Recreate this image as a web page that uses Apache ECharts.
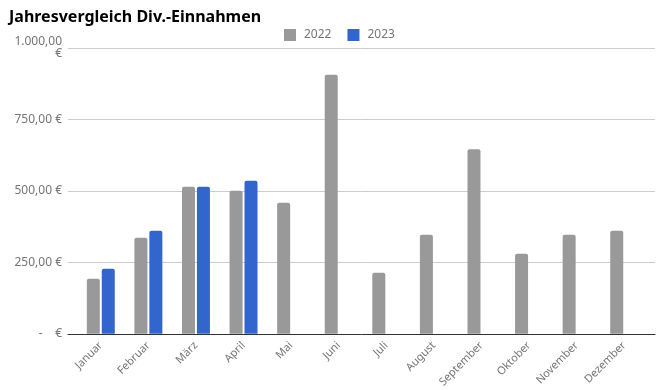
<!DOCTYPE html>
<html><head><meta charset="utf-8">
<script src="https://cdn.jsdelivr.net/npm/echarts@6/dist/echarts.min.js"></script>
<style>html,body{margin:0;padding:0;background:#fff}#c{width:667px;height:390px}</style>
</head><body><div id="c"></div>
<script>
var categories = ["Januar","Februar","März","April","Mai","Juni","Juli","August","September","Oktober","November","Dezember"];
var values2022 = [192, 336, 514, 500, 458, 906, 213, 346, 646, 280, 346, 360];
var values2023 = [227, 360, 514, 535, null, null, null, null, null, null, null, null];
var yTickLabels = {0: "-    €", 250: "250,00 €", 500: "500,00 €", 750: "750,00 €", 1000: "1.000,00\n€"};

var chart = echarts.init(document.getElementById('c'));
var font = 'Noto Sans';
chart.setOption({
  animation: false,
  textStyle: {fontFamily: font},
  title: {text: 'Jahresvergleich Div.-Einnahmen', left: 4, top: 4,
    textStyle: {fontSize: 16, fontWeight: 'bold', color: '#000', fontFamily: font}},
  legend: {top: 24, left: 279, itemWidth: 12, itemHeight: 12, itemGap: 16,
    icon: 'rect', textStyle: {color: '#757575', fontSize: 12, padding: [0, 0, 0, 3]},
    data: ['2022', '2023']},
  grid: [
    {left: 68, right: 12, top: 48, bottom: 56},
    {left: 77, right: 19, top: 48, bottom: 56}
  ],
  xAxis: [
    {type: 'value', gridIndex: 0, min: 0, max: 1, show: true,
      axisLine: {show: true, onZero: false, lineStyle: {color: '#333', width: 1}},
      axisTick: {show: false}, axisLabel: {show: false}, splitLine: {show: false}},
    {type: 'category', gridIndex: 1, data: categories,
      axisLine: {show: false}, axisTick: {show: false},
      axisLabel: {rotate: 45, color: '#757575', fontSize: 11, margin: 10, interval: 0}}
  ],
  yAxis: [
    {type: 'value', gridIndex: 0, min: 0, max: 1000, interval: 250,
      axisLine: {show: false}, axisTick: {show: false},
      splitLine: {lineStyle: {color: '#cccccc'}},
      axisLabel: {color: '#757575', fontSize: 12, margin: 6, lineHeight: 12,
        formatter: function (v) { return yTickLabels[v]; }}},
    {type: 'value', gridIndex: 1, min: 0, max: 1000, interval: 250, show: false}
  ],
  series: [
    {name: '2022', type: 'bar', xAxisIndex: 1, yAxisIndex: 1, data: values2022,
      barWidth: 13, barGap: '15%', itemStyle: {color: '#999999', borderRadius: [2, 2, 0, 0]}},
    {name: '2023', type: 'bar', xAxisIndex: 1, yAxisIndex: 1, data: values2023,
      barWidth: 13, itemStyle: {color: '#3366cc', borderRadius: [2, 2, 0, 0]}}
  ]
});
</script></body></html>
